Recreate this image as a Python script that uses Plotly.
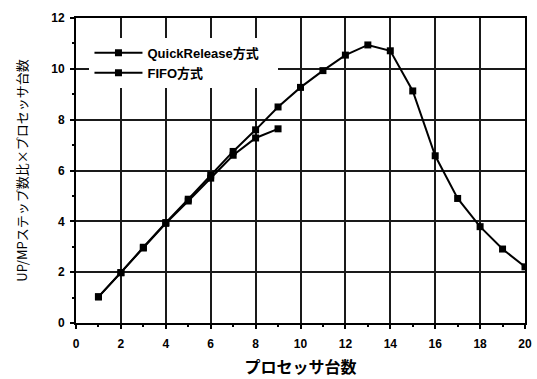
import plotly.graph_objects as go

processors = list(range(1, 21))
quick_release = [1.03, 1.98, 2.98, 3.95, 4.87, 5.82, 6.75, 7.6, 8.5, 9.27,
                 9.93, 10.54, 10.94, 10.71, 9.13, 6.58, 4.9, 3.79, 2.91, 2.21]
fifo_x = list(range(1, 10))
fifo = [1.03, 1.98, 2.95, 3.92, 4.8, 5.7, 6.6, 7.28, 7.64]

x_ticks = list(range(0, 21, 2))
y_ticks = list(range(0, 13, 2))

font_main = "Liberation Sans, Arial, Noto Sans CJK JP"
pad = "\u00a0" * 4

fig = go.Figure()
fig.add_trace(go.Scatter(
    x=processors, y=quick_release, mode="lines+markers",
    name="<b>QuickRelease方式</b>" + pad,
    line=dict(color="black", width=2),
    marker=dict(symbol="square", size=7, color="black"),
))
fig.add_trace(go.Scatter(
    x=fifo_x, y=fifo, mode="lines+markers",
    name="<b>FIFO方式</b>",
    line=dict(color="black", width=2),
    marker=dict(symbol="square", size=7, color="black"),
))

axis_common = dict(
    showline=True, linecolor="black", linewidth=2, mirror=True,
    showgrid=True, gridcolor="#1a1a1a", gridwidth=1.6,
    zeroline=False, automargin=False,
    ticks="outside", ticklen=4, tickcolor="black", tickwidth=1.5,
    tickfont=dict(family=font_main, size=12, color="black"),
    minor=dict(ticks="outside", ticklen=2, tickcolor="black", showgrid=False),
)

fig.update_layout(
    width=537, height=379,
    margin=dict(l=76, r=12, t=18, b=56),
    paper_bgcolor="white", plot_bgcolor="white",
    showlegend=True,
    legend=dict(x=0.03, y=0.935, xanchor="left", yanchor="top",
                bgcolor="white", borderwidth=0,
                font=dict(family=font_main, size=13, color="black"),
                tracegroupgap=3, itemwidth=48),
    xaxis=dict(range=[0, 20], tickvals=x_ticks,
               ticktext=[f"<b>{v}</b>" for v in x_ticks],
               ticklabelstandoff=5,
               title=dict(text="<b>プロセッサ台数</b>", standoff=11,
                          font=dict(family="Noto Sans CJK JP", size=16, color="black")),
               **axis_common),
    yaxis=dict(range=[0, 12], tickvals=y_ticks,
               ticktext=[f"<b>{v}</b>" for v in y_ticks],
               ticklabelstandoff=3,
               title=dict(text="UP/MPステップ数比×プロセッサ台数", standoff=21,
                          font=dict(family="Noto Sans CJK JP", size=13, color="black")),
               **axis_common),
)
fig.update_xaxes(minor=dict(dtick=1, tick0=0))
fig.update_yaxes(minor=dict(dtick=1, tick0=0))

fig.write_html("out.html",
               config={"displayModeBar": False},
               post_script="document.body.style.margin='0';document.body.style.overflow='hidden';")
